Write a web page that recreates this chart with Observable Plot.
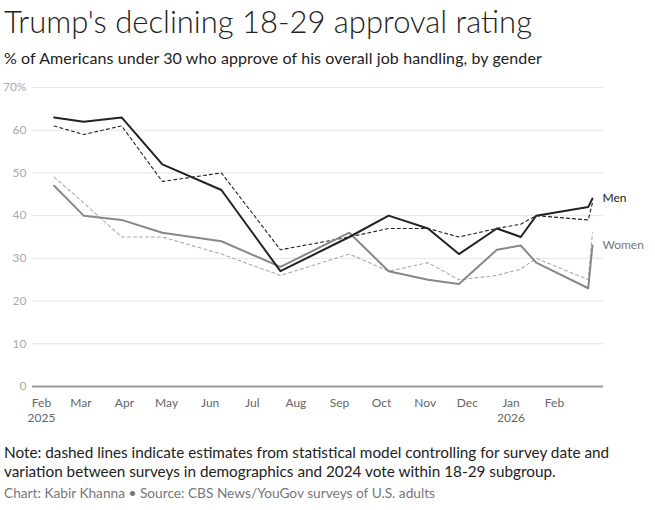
<!DOCTYPE html>
<html>
<head>
<meta charset="utf-8">
<script src="https://cdn.jsdelivr.net/npm/d3@7"></script>
<script src="https://cdn.jsdelivr.net/npm/@observablehq/plot@0.6"></script>
<style>
  html, body { margin: 0; padding: 0; background: #fff; }
  body { width: 655px; height: 510px; position: relative; font-family: Lato, "Open Sans", sans-serif; overflow: hidden; }
  .t { position: absolute; left: 4px; white-space: nowrap; line-height: 1; }
  #title { top: 5.5px; font-size: 31px; font-weight: 300; color: #222; }
  #subtitle { top: 49.8px; font-size: 16px; letter-spacing: 0.1px; color: #222; }
  #note { top: 442.6px; font-size: 15.3px; line-height: 19px; color: #222; }
  #source { top: 485.8px; font-size: 13.7px; color: #777; }
  #chart { position: absolute; left: 0; top: 76px; }
</style>
</head>
<body>
<div class="t" id="title">Trump's declining 18-29 approval rating</div>
<div class="t" id="subtitle">% of Americans under 30 who approve of his overall job handling, by gender</div>
<div id="chart"></div>
<div class="t" id="note">Note: dashed lines indicate estimates from statistical model controlling for survey date and<br>variation between surveys in demographics and 2024 vote within 18-29 subgroup.</div>
<div class="t" id="source">Chart: Kabir Khanna • Source: CBS News/YouGov surveys of U.S. adults</div>
<script>
const surveyDates = ["2025-02-10","2025-03-03","2025-03-30","2025-04-28","2025-06-09","2025-07-21","2025-09-08","2025-10-06","2025-11-03","2025-11-25","2025-12-22","2026-01-08","2026-01-19","2026-02-25","2026-02-28"];
const menSurvey   = [63, 62, 63, 52, 46, 27, 35, 40, 37, 31, 37, 35, 40, 42, 44];
const womenSurvey = [47, 40, 39, 36, 34, 28, 36, 27, 25, 24, 32, 33, 29, 23, 33];
const menModel    = [61, 59, 61, 48, 50, 32, 35, 37, 37, 35, 37, 38, 40, 39, 43];
const womenModel  = [49, 43, 35, 35, 31, 26, 31, 27, 29, 25, 26, 27.5, 30, 25, 36];
const xTickDates = ["2025-02-01","2025-03-01","2025-04-01","2025-05-01","2025-06-01","2025-07-01","2025-08-01","2025-09-01","2025-10-01","2025-11-01","2025-12-01","2026-01-01","2026-02-01"];
const yTicks = [0, 10, 20, 30, 40, 50, 60, 70];
const seriesLabels = ["Men", "Women"];

const parse = d3.utcParse("%Y-%m-%d");
const dates = surveyDates.map(parse);
const xTicks = xTickDates.map(parse);
const toRows = (vals) => vals.map((v, i) => ({date: dates[i], value: v}));

const ms = toRows(menSurvey), ws = toRows(womenSurvey), mm = toRows(menModel), wm = toRows(womenModel);
const endLabels = [
  {date: dates[dates.length - 1], value: menSurvey[menSurvey.length - 1], label: seriesLabels[0]},
  {date: dates[dates.length - 1], value: womenSurvey[womenSurvey.length - 1], label: seriesLabels[1]}
];

const monthFmt = d3.utcFormat("%b");
const chart = Plot.plot({
  width: 655,
  height: 350,
  marginTop: 11,
  marginLeft: 32,
  marginRight: 52,
  marginBottom: 40,
  style: {fontFamily: "Lato, 'Open Sans', sans-serif", fontSize: "12px", background: "transparent"},
  x: {type: "utc", domain: [xTicks[0], xTicks[xTicks.length - 1]], range: [41, 554]},
  y: {domain: [0, 70]},
  marks: [
    Plot.gridY(yTicks.filter(d => d > 0), {stroke: "#e6e6e6", strokeOpacity: 1, strokeWidth: 1}),
    Plot.axisY(yTicks, {tickSize: 0, tickPadding: 6, fill: "#aaa", fontSize: 12, tickFormat: d => d === 70 ? "70%" : String(d), label: null}),
    Plot.axisX(xTicks, {tickSize: 0, tickPadding: 10, fill: "#666", fontSize: 12, lineHeight: 1.25, label: null,
      tickFormat: d => (d.getUTCMonth() === 0 || +d === +xTicks[0]) ? monthFmt(d) + "\n" + d.getUTCFullYear() : monthFmt(d)}),
    Plot.ruleY([0], {stroke: "#999", strokeWidth: 2}),
    Plot.line(wm, {x: "date", y: "value", stroke: "#aaa", strokeWidth: 1.1, strokeDasharray: "3,3"}),
    Plot.line(mm, {x: "date", y: "value", stroke: "#222", strokeWidth: 1.1, strokeDasharray: "3,3"}),
    Plot.line(ws, {x: "date", y: "value", stroke: "#888", strokeWidth: 2}),
    Plot.line(ms, {x: "date", y: "value", stroke: "#222", strokeWidth: 2}),
    Plot.text(endLabels, {x: "date", y: "value", text: "label", dx: 10, textAnchor: "start", fontSize: 12,
      fill: d => d.label === "Men" ? "#222" : "#777"})
  ]
});
document.getElementById("chart").appendChild(chart);
</script>
</body>
</html>
